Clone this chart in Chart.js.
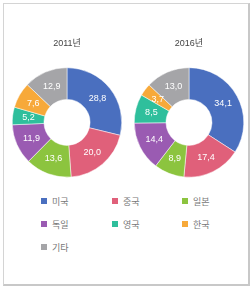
<!DOCTYPE html>
<html>
<head>
<meta charset="utf-8">
<script src="https://cdn.jsdelivr.net/npm/chart.js@4"></script>
<style>
    body { margin: 0; background: #fff; font-family: 'Noto Sans CJK KR', 'Noto Sans', sans-serif; }
    #frame {
        position: absolute; left: 3px; top: 3px; width: 244px; height: 280px;
        border: 1px solid #d4d4d4; border-right: 2px solid #c8c8c8; border-bottom: 2px solid #c8c8c8;
    }
    .wrap { position: absolute; top: 30px; width: 112px; height: 150px; }
    #legenda { position: absolute; left: 0; top: 0; }
    .item { position: absolute; font-size: 9px; color: #777; line-height: 10px; white-space: nowrap; }
    .item span { display: inline-block; width: 6px; height: 6px; margin-right: 5px; vertical-align: 1px; }
</style>
</head>
<body>
<div id="frame"></div>
<div class="wrap" style="left:11px"><canvas id="grafico2011"></canvas></div>
<div class="wrap" style="left:133px"><canvas id="grafico2016"></canvas></div>
<div id="legenda"></div>
<script>

const paises = ['미국', '중국', '일본', '독일', '영국', '한국', '기타'];
const valores2011 = [28.8, 20.0, 13.6, 11.9, 5.2, 7.6, 12.9];
const valores2016 = [34.1, 17.4, 8.9, 14.4, 8.5, 3.7, 13.0];
const cores = ['#4a6fbf', '#e0607a', '#8cc43f', '#9a5bb2', '#2fbf9c', '#f7a93a', '#a5a5a8'];


const rotulosPlugin = {
    id: 'rotulos',
    afterDatasetsDraw(chart) {
        const ctx = chart.ctx;
        const meta = chart.getDatasetMeta(0);
        const dados = chart.data.datasets[0].data;
        ctx.save();
        ctx.fillStyle = '#fff';
        ctx.font = '9px "Liberation Sans", Arial, sans-serif';
        ctx.textAlign = 'center';
        ctx.textBaseline = 'middle';
        meta.data.forEach((arc, i) => {
            const pos = arc.tooltipPosition();
            ctx.fillText(dados[i].toFixed(1).replace('.', ','), pos.x, pos.y);
        });
        ctx.restore();
    }
};


function criarGrafico(id, titulo, valores) {
    const ctx = document.getElementById(id).getContext('2d');
    return new Chart(ctx, {
        type: 'doughnut',
        data: {
            labels: paises,
            datasets: [{
                data: valores,
                backgroundColor: cores,
                borderColor: '#fff',
                borderWidth: 0.5
            }]
        },
        options: {
            responsive: true,
            maintainAspectRatio: false,
            animation: false,
            cutout: '42%',
            layout: { padding: { left: 1, right: 1, bottom: 2 } },
            plugins: {
                legend: { display: false },
                tooltip: { enabled: false },
                title: {
                    display: true,
                    text: titulo,
                    color: '#444',
                    font: { size: 9, family: '"Liberation Sans", "Noto Sans CJK KR", sans-serif', weight: 'normal' },
                    padding: { top: 8, bottom: 18 }
                }
            }
        },
        plugins: [rotulosPlugin]
    });
}

criarGrafico('grafico2011', '2011년', valores2011);
criarGrafico('grafico2016', '2016년', valores2016);


const legenda = document.getElementById('legenda');
const colunas = [41, 112, 182];
paises.forEach((nome, i) => {
    const item = document.createElement('div');
    item.className = 'item';
    item.style.left = colunas[i % 3] + 'px';
    item.style.top = (197 + Math.floor(i / 3) * 23) + 'px';
    item.innerHTML = '<span style="background:' + cores[i] + '"></span>' + nome;
    legenda.appendChild(item);
});
</script>
</body>
</html>
